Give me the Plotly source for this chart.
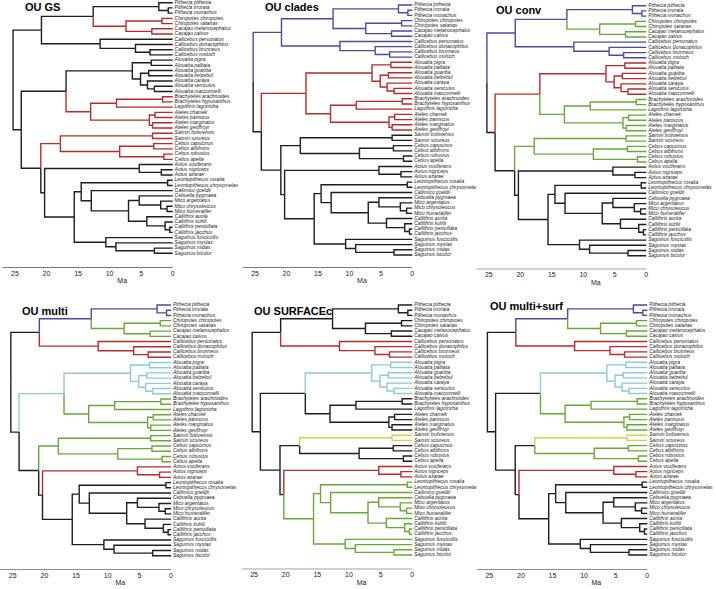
import plotly.graph_objects as go

W, H = 716, 589

# ---------------- data ----------------
tips = [
    "Pithecia pithecia", "Pithecia irrorata", "Pithecia monachus",
    "Chiropotes chiropotes", "Chiropotes satanas",
    "Cacajao melanocephalus", "Cacajao calvus",
    "Callicebus personatus", "Callicebus donacophilus", "Callicebus brunneus", "Callicebus moloch",
    "Alouatta pigra", "Alouatta palliata", "Alouatta guariba", "Alouatta belzebul",
    "Alouatta caraya", "Alouatta seniculus", "Alouatta macconnelli",
    "Brachyteles arachnoides", "Brachyteles hypoxanthus", "Lagothrix lagotricha",
    "Ateles chamek", "Ateles paniscus", "Ateles marginatus", "Ateles geoffroyi",
    "Saimiri boliviensis", "Saimiri sciureus",
    "Cebus capucinus", "Cebus albifrons", "Cebus robustus", "Cebus apella",
    "Aotus vociferans", "Aotus nigriceps", "Aotus azarae",
    "Leontopithecus rosalia", "Leontopithecus chrysomelas", "Callimico goeldii",
    "Cebuella pygmaea", "Mico argentatus", "Mico chrysoleucus", "Mico humeralifer",
    "Callithrix aurita", "Callithrix kuhlii", "Callithrix penicillata", "Callithrix jacchus",
    "Saguinus fuscicollis", "Saguinus mystax", "Saguinus midas", "Saguinus bicolor",
]

node_names = [
    "root", "Pitheciidae", "Pitheciinae", "Pithecia", "Pith2", "ChiCac", "Chiropotes", "Cacajao",
    "Callicebus", "Call2", "Call3", "AtCe", "Atelidae", "Alouatta", "Al1", "Al2", "Al3", "Al4", "Al5",
    "Atelinae", "BraLag", "Brachyteles", "Ateles", "At1", "At2", "Cebidae", "Cebinae", "Saimiri",
    "Cebus", "Cebus1", "Cebus2", "AoCa", "Aotus", "Aotus2", "Callitrichidae", "CalA", "Leontopithecus",
    "CalB", "CalC", "CebMico", "Mico", "Mico2", "Callithrix", "Cx2", "Cx3", "Saguinus", "Sag2", "Sag3",
]

node_ages = [
    25.3, 20.8, 12.6, 2.2, 0.7, 7.4, 1.7, 3.3,
    11.5, 5.9, 3.6, 24.0, 16.9, 6.4, 3.4, 5.1, 3.8, 4.0, 2.9,
    13.0, 8.9, 1.6, 3.7, 2.8, 3.2, 20.9, 17.8, 3.2,
    8.4, 3.0, 1.4, 20.3, 5.3, 1.8, 15.6, 14.5, 0.8,
    12.9, 7.0, 5.3, 1.9, 0.9, 4.1, 1.2, 0.45, 10.6, 9.0, 2.9,
]

node_children = [
    ["Pitheciidae", "AtCe"], ["Pitheciinae", "Callicebus"], ["Pithecia", "ChiCac"],
    ["Pithecia pithecia", "Pith2"], ["Pithecia irrorata", "Pithecia monachus"],
    ["Chiropotes", "Cacajao"], ["Chiropotes chiropotes", "Chiropotes satanas"],
    ["Cacajao melanocephalus", "Cacajao calvus"],
    ["Callicebus personatus", "Call2"], ["Callicebus donacophilus", "Call3"],
    ["Callicebus brunneus", "Callicebus moloch"],
    ["Atelidae", "Cebidae"], ["Alouatta", "Atelinae"], ["Al1", "Al2"],
    ["Alouatta pigra", "Alouatta palliata"], ["Al3", "Al4"],
    ["Alouatta guariba", "Alouatta belzebul"], ["Alouatta caraya", "Al5"],
    ["Alouatta seniculus", "Alouatta macconnelli"],
    ["BraLag", "Ateles"], ["Brachyteles", "Lagothrix lagotricha"],
    ["Brachyteles arachnoides", "Brachyteles hypoxanthus"], ["At1", "At2"],
    ["Ateles chamek", "Ateles paniscus"], ["Ateles marginatus", "Ateles geoffroyi"],
    ["Cebinae", "AoCa"], ["Saimiri", "Cebus"], ["Saimiri boliviensis", "Saimiri sciureus"],
    ["Cebus1", "Cebus2"], ["Cebus capucinus", "Cebus albifrons"], ["Cebus robustus", "Cebus apella"],
    ["Aotus", "Callitrichidae"], ["Aotus vociferans", "Aotus2"], ["Aotus nigriceps", "Aotus azarae"],
    ["CalA", "Saguinus"], ["Leontopithecus", "CalB"],
    ["Leontopithecus rosalia", "Leontopithecus chrysomelas"],
    ["Callimico goeldii", "CalC"], ["CebMico", "Callithrix"], ["Cebuella pygmaea", "Mico"],
    ["Mico argentatus", "Mico2"], ["Mico chrysoleucus", "Mico humeralifer"],
    ["Callithrix aurita", "Cx2"], ["Callithrix kuhlii", "Cx3"],
    ["Callithrix penicillata", "Callithrix jacchus"],
    ["Saguinus fuscicollis", "Sag2"], ["Saguinus mystax", "Sag3"], ["Saguinus midas", "Saguinus bicolor"],
]

panel_titles = ["OU GS", "OU clades", "OU conv", "OU multi", "OU SURFACEc", "OU multi+surf"]

# selective regimes painted on clades (stem edge included)
panel_regimes = [
    [("ChiCac", "red"), ("Atelinae", "red"), ("Cebinae", "red")],
    [("Pitheciidae", "blue"), ("Atelidae", "red")],
    [("Pitheciidae", "blue"), ("ChiCac", "green"), ("Atelidae", "red"), ("Atelinae", "green"),
     ("Cebinae", "green")],
    [("Pitheciinae", "blue"), ("ChiCac", "green"), ("Callicebus", "red"), ("Atelidae", "lblue"),
     ("Atelinae", "green"), ("Cebinae", "green"), ("Aotus", "red")],
    [("Callicebus", "red"), ("Alouatta", "lblue"), ("Saimiri", "yellow"), ("Aotus", "red"),
     ("Callitrichidae", "green")],
    [("Pitheciinae", "blue"), ("ChiCac", "green"), ("Callicebus", "red"), ("Alouatta", "lblue"),
     ("Atelinae", "green"), ("Saimiri", "yellow"), ("Cebus", "green"), ("Aotus", "red")],
]

age_ticks = [25, 20, 15, 10, 5, 0]

# ---------------- styles / layout geometry ----------------
palette = {"black": "#1e1e1e", "blue": "#4b4b9c", "red": "#b22d2d", "green": "#68a83a",
           "lblue": "#90c9d8", "yellow": "#d2d246"}
FONT = "Liberation Sans, Arial, sans-serif"

# per panel: pixel of 0 Ma, px per Ma, first tip y, last tip y, axis line y
geom = [
    (172.7, 6.31, 2.7, 253.3, 267.7),
    (412.3, 6.29, 5.0, 255.0, 267.7),
    (646.3, 6.30, 5.7, 255.7, 269.3),
    (171.0, 6.33, 305.0, 555.7, 570.0),
    (412.3, 6.33, 305.0, 555.0, 569.3),
    (647.3, 6.32, 305.0, 555.0, 569.5),
]
title_pos = [(23, 6.7), (263, 6.7), (494, 10.0), (20, 310.8), (252, 310.8), (488, 305.8)]
AXIS_LEFT = 27.0      # axis line left end (Ma)
LABEL_ROOM = 11.0     # extra room (Ma) right of 0 for tip labels

# ---------------- tree geometry ----------------
age = dict(zip(node_names, node_ages))
for t in tips:
    age[t] = 0.0
children = dict(zip(node_names, node_children))
ypos = {t: i + 1 for i, t in enumerate(tips)}


def node_y(n):
    if n in ypos:
        return ypos[n]
    ys = [node_y(c) for c in children[n]]
    ypos[n] = sum(ys) / len(ys)
    return ypos[n]


node_y("root")

fig = go.Figure()

for k in range(6):
    px0, s, yt, yb, ya = geom[k]
    dy = (yb - yt) / 48.0
    sfx = "" if k == 0 else str(k + 1)
    xa, yaname = "x" + sfx, "y" + sfx

    reg = dict(panel_regimes[k])
    edge_col = {}

    def paint(n, col):
        for c in children.get(n, []):
            cc = reg.get(c, col)
            edge_col[c] = cc
            paint(c, cc)

    paint("root", "black")

    xl = max((px0 - AXIS_LEFT * s) / W, 0.0)
    amax = (px0 - xl * W) / s
    xr = min((px0 + LABEL_ROOM * s) / W, 1.0)
    amin = -(xr * W - px0) / s
    top_px = max(yt - 0.6 * dy, 0.0)
    itop = 1 - (yt - top_px) / dy
    ybot_idx = 49 + (ya - yb) / dy

    # axis line (from left end to 0 Ma)
    fig.add_trace(go.Scatter(x=[amax, 0], y=[ybot_idx, ybot_idx], mode="lines", xaxis=xa, yaxis=yaname,
                             line=dict(color="#222", width=1), hoverinfo="skip", showlegend=False,
                             cliponaxis=False))

    segs = {}
    for n in node_names:
        for c in children[n]:
            col = edge_col[c]
            xs, ys = segs.setdefault(col, ([], []))
            xs += [age[n], age[n], age[c], None]
            ys += [ypos[n], ypos[c], ypos[c], None]
    for col in ["black", "blue", "red", "green", "lblue", "yellow"]:
        if col in segs:
            xs, ys = segs[col]
            fig.add_trace(go.Scatter(x=xs, y=ys, mode="lines", xaxis=xa, yaxis=yaname,
                                     line=dict(color=palette[col], width=1.4),
                                     hoverinfo="skip", showlegend=False, cliponaxis=False))

    fig.add_trace(go.Scatter(x=[-0.3] * len(tips), y=[ypos[t] for t in tips], mode="text",
                             text=tips, textposition="middle right", xaxis=xa, yaxis=yaname,
                             textfont=dict(family=FONT, size=5, style="italic", color="#222"),
                             hoverinfo="skip", showlegend=False, cliponaxis=False))

    fig.layout["xaxis" + sfx] = dict(
        domain=[xl, xr], range=[amax, amin], anchor=yaname, showline=False,
        ticks="", tickvals=age_ticks, ticktext=[str(v) for v in age_ticks],
        tickfont=dict(family=FONT, size=7, color="#222"), showgrid=False, zeroline=False,
        title=dict(text="Ma", font=dict(family=FONT, size=7, color="#222"), standoff=2),
    )
    fig.layout["yaxis" + sfx] = dict(
        domain=[1 - ya / H, 1 - top_px / H], range=[ybot_idx, itop], anchor=xa,
        visible=False, showgrid=False, zeroline=False,
    )
    tx, ty = title_pos[k]
    fig.add_annotation(x=tx / W, y=1 - ty / H, xref="paper", yref="paper",
                       text="<b>%s</b>" % panel_titles[k],
                       showarrow=False, xanchor="left", yanchor="middle",
                       font=dict(family=FONT, size=11, color="black"))

fig.update_layout(width=W, height=H, margin=dict(l=0, r=0, t=0, b=0), template="none",
                  paper_bgcolor="white", plot_bgcolor="white", showlegend=False)
fig.write_html("out.html", config={"displayModeBar": False},
               post_script="document.body.style.margin='0px';document.body.style.overflow='hidden';")
